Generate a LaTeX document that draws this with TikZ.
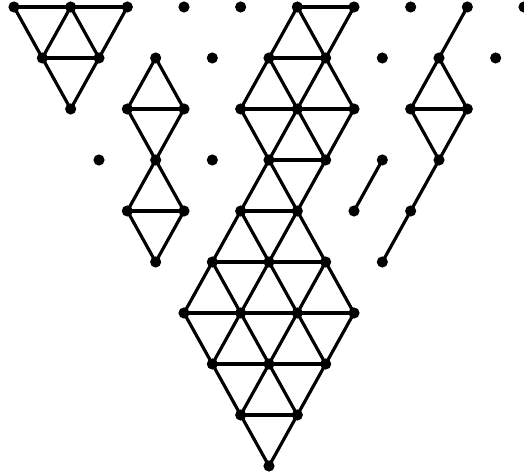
\documentclass[tikz,border=0pt]{standalone}
\usetikzlibrary{calc}
\tikzset{
  edge/.style={draw=black, line width=1.6pt, line cap=round},
  dot/.style={circle, fill=black, inner sep=0pt, minimum size=5.6pt},
}
\begin{document}
\begin{tikzpicture}[x=1cm,y=1cm]
  \useasboundingbox (-0.247,0.1235) rectangle (9.0,-8.223);
  % Lattice points, row r from the top, index i from the left
  \foreach \r in {0,...,9}{
    \pgfmathtruncatemacro{\last}{9-\r}
    \foreach \i in {0,...,\last}
      \coordinate (p\r-\i) at ({\i+\r/2},{-0.9*\r});
  }
  % Edges first, so the dots paint over them
  \foreach \a/\b in {0-0/0-2, 0-0/1-0, 0-1/1-0, 0-1/1-1, 0-2/1-1, 1-0/1-1, 1-0/2-0, 1-1/2-0}
    \draw[edge] (p\a) -- (p\b);
  \foreach \a/\b in {1-2/2-1, 1-2/2-2, 2-1/2-2, 2-1/3-1, 2-2/3-1,
                     3-1/4-0, 3-1/4-1, 4-0/4-1, 4-0/5-0, 4-1/5-0}
    \draw[edge] (p\a) -- (p\b);
  \foreach \a/\b in {0-5/0-6, 0-5/1-4, 0-5/1-5, 0-6/1-5, 1-4/1-5,
                     1-4/2-3, 1-4/2-4, 1-5/2-4, 1-5/2-5, 2-3/2-5,
                     2-3/3-3, 2-4/3-3, 2-4/3-4, 2-5/3-4, 3-3/3-4,
                     3-3/4-2, 3-3/4-3, 3-4/4-3, 4-2/4-3,
                     4-2/5-1, 4-2/5-2, 4-3/5-2, 4-3/5-3, 5-1/5-3,
                     5-1/6-0, 5-1/6-1, 5-2/6-1, 5-2/6-2, 5-3/6-2, 5-3/6-3, 6-0/6-3,
                     6-0/7-0, 6-1/7-0, 6-1/7-1, 6-2/7-1, 6-2/7-2, 6-3/7-2, 7-0/7-2,
                     7-0/8-0, 7-1/8-0, 7-1/8-1, 7-2/8-1, 8-0/8-1,
                     8-0/9-0, 8-1/9-0}
    \draw[edge] (p\a) -- (p\b);
  \foreach \a/\b in {0-8/1-7, 1-7/2-6, 1-7/2-7, 2-6/2-7, 2-6/3-6, 2-7/3-6,
                     3-6/4-5, 4-5/5-4, 3-5/4-4}
    \draw[edge] (p\a) -- (p\b);
  % Dots
  \foreach \r in {0,...,9}{
    \pgfmathtruncatemacro{\last}{9-\r}
    \foreach \i in {0,...,\last}
      \node[dot] (d\r-\i) at (p\r-\i) {};
  }
\end{tikzpicture}
\end{document}
